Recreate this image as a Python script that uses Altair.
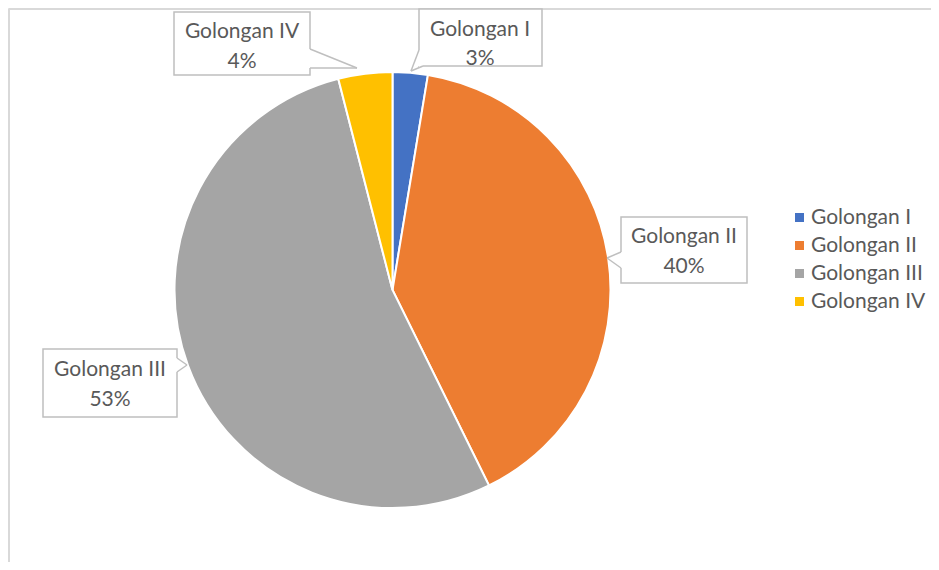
import altair as alt
import pandas as pd

# ---- data ----
categories = ["Golongan I", "Golongan II", "Golongan III", "Golongan IV"]
values = [2.6, 40.1, 53.3, 4.0]
colors = ["#4472C4", "#ED7D31", "#A5A5A5", "#FFC000"]

# ---- layout (page pixel coordinates, converted below) ----
OFF = 8
W, H = 923, 554
CX, CY, R = 392.5, 290, 218
FONT = "Lato"
FS = 21
TXT = "#595959"
BOX = "#BFBFBF"

box_x0 = [419, 621, 43, 174]
box_x1 = [542, 747, 177, 310]
box_y0 = [9, 217, 349, 12]
box_y1 = [66, 283, 417, 75]
txt_x = [480, 684, 110, 242]
txt_y1 = [30, 237, 370, 32]
txt_y2 = [59, 267, 400, 62]
# pointer: a -> tip -> b ; c is the box-edge point between a and b
ptr_a = [(419, 50), (621, 252), (177, 358), (310, 49)]
ptr_tip = [(411, 71), (607, 258), (187, 365), (357, 68)]
ptr_b = [(423, 66), (621, 268), (177, 372), (310, 68)]
ptr_c = [(419, 66), (621, 260), (177, 365), (310, 58)]

pie_df = pd.DataFrame({"cat": categories, "val": values, "idx": range(len(categories))})

lab_df = pd.DataFrame({
    "cat": categories,
    "x0": [v - OFF for v in box_x0], "x1": [v - OFF for v in box_x1],
    "y0": [v - OFF for v in box_y0], "y1": [v - OFF for v in box_y1],
    "tx": [v - OFF for v in txt_x],
    "ty1": [v - OFF for v in txt_y1], "ty2": [v - OFF for v in txt_y2],
    "l1": categories,
    "l2": [f"{round(v)}%" for v in values],
})

erase_rows, ptr_rows = [], []
for a, t, b, c in zip(ptr_a, ptr_tip, ptr_b, ptr_c):
    erase_rows.append({"x": a[0] - OFF, "y": a[1] - OFF, "x2": c[0] - OFF, "y2": c[1] - OFF})
    erase_rows.append({"x": c[0] - OFF, "y": c[1] - OFF, "x2": b[0] - OFF, "y2": b[1] - OFF})
    ptr_rows.append({"x": a[0] - OFF, "y": a[1] - OFF, "x2": t[0] - OFF, "y2": t[1] - OFF})
    ptr_rows.append({"x": t[0] - OFF, "y": t[1] - OFF, "x2": b[0] - OFF, "y2": b[1] - OFF})
erase_df = pd.DataFrame(erase_rows)
ptr_df = pd.DataFrame(ptr_rows)

border_df = pd.DataFrame({"x": [1, 1], "y": [1, 1], "x2": [W, 1], "y2": [1, H]})

def seg(df, color, width):
    return alt.Chart(df).mark_rule(color=color, strokeWidth=width).encode(
        x=alt.X("x:Q", scale=None), y=alt.Y("y:Q", scale=None),
        x2="x2:Q", y2="y2:Q")

border = seg(border_df, "#D9D9D9", 2)

pie = alt.Chart(pie_df).mark_arc(radius=R, stroke="white", strokeWidth=2).encode(
    theta=alt.Theta("val:Q", stack=True),
    order=alt.Order("idx:Q", sort="ascending"),
    color=alt.Color("cat:N",
                    scale=alt.Scale(domain=categories, range=colors),
                    sort=categories,
                    legend=alt.Legend(title=None, orient="none",
                                      legendX=781, legendY=199,
                                      symbolType="square", symbolSize=81,
                                      symbolStrokeWidth=0,
                                      labelFont=FONT, labelFontSize=FS,
                                      labelColor=TXT, labelOffset=1,
                                      rowPadding=6, padding=0)),
    x=alt.value(CX - OFF), y=alt.value(CY - OFF),
)

boxes = alt.Chart(lab_df).mark_rect(fill="white", stroke=BOX, strokeWidth=1.5).encode(
    x=alt.X("x0:Q", scale=None), x2="x1:Q",
    y=alt.Y("y0:Q", scale=None), y2="y1:Q")

erase = seg(erase_df, "white", 3)
ptrs = seg(ptr_df, BOX, 1.5)

t1 = alt.Chart(lab_df).mark_text(font=FONT, fontSize=FS, color=TXT,
                                  align="center", baseline="middle").encode(
    x=alt.X("tx:Q", scale=None), y=alt.Y("ty1:Q", scale=None), text="l1:N")
t2 = alt.Chart(lab_df).mark_text(font=FONT, fontSize=FS, color=TXT,
                                  align="center", baseline="middle").encode(
    x=alt.X("tx:Q", scale=None), y=alt.Y("ty2:Q", scale=None), text="l2:N")

chart = alt.layer(border, pie, boxes, erase, ptrs, t1, t2).properties(
    width=W, height=H, padding=0, autosize=alt.AutoSizeParams(type="none")
).configure_view(stroke=None).configure(background="white")

chart.save("out.html", embed_options={"renderer": "svg", "actions": False})
